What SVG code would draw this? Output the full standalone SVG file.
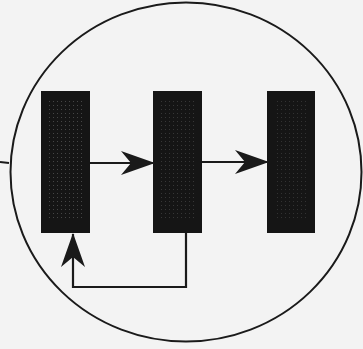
<svg xmlns="http://www.w3.org/2000/svg" width="363" height="349" viewBox="0 0 363 349">
<style>
.box{fill:#151515;}
.dots{fill:url(#dots);}
.ln{fill:none;stroke:#1a1a1a;stroke-width:2.2;}
.ring{fill:none;stroke:#1a1a1a;stroke-width:2;}
</style>
<defs>
<pattern id="dots" width="4" height="4" patternUnits="userSpaceOnUse">
<rect x="1" y="1" width="1" height="1" fill="#777"/>
</pattern>
<marker id="ah" viewBox="0 0 34 24" refX="33" refY="12" markerWidth="34" markerHeight="24" markerUnits="userSpaceOnUse" orient="auto">
<path d="M0,0 L34,12 L0,24 L10,12 Z" fill="#1a1a1a"/>
</marker>
</defs>
<rect width="363" height="349" fill="#f3f3f3"/>
<ellipse cx="186" cy="172" rx="175.5" ry="169.5" class="ring"/>
<g id="n1"><rect x="41" y="91" width="49" height="142" class="box"/><rect x="46" y="100" width="38" height="120" class="dots" opacity="0.5"/></g>
<g id="n2"><rect x="153" y="91" width="49" height="142" class="box"/><rect x="160" y="100" width="34" height="120" class="dots" opacity="0.35"/></g>
<g id="n3"><rect x="267" y="91" width="48" height="142" class="box"/><rect x="274" y="100" width="32" height="120" class="dots" opacity="0.3"/></g>
<g id="connectors">
<line x1="90" y1="163" x2="154" y2="163" class="ln" marker-end="url(#ah)"/>
<line x1="202" y1="162" x2="268" y2="162" class="ln" marker-end="url(#ah)"/>
<path d="M186,233 L186,287 L73,287 L73,234" class="ln" marker-end="url(#ah)"/>
<line x1="0" y1="162" x2="9" y2="163" class="ln" stroke-width="1.5"/>
</g>
</svg>
